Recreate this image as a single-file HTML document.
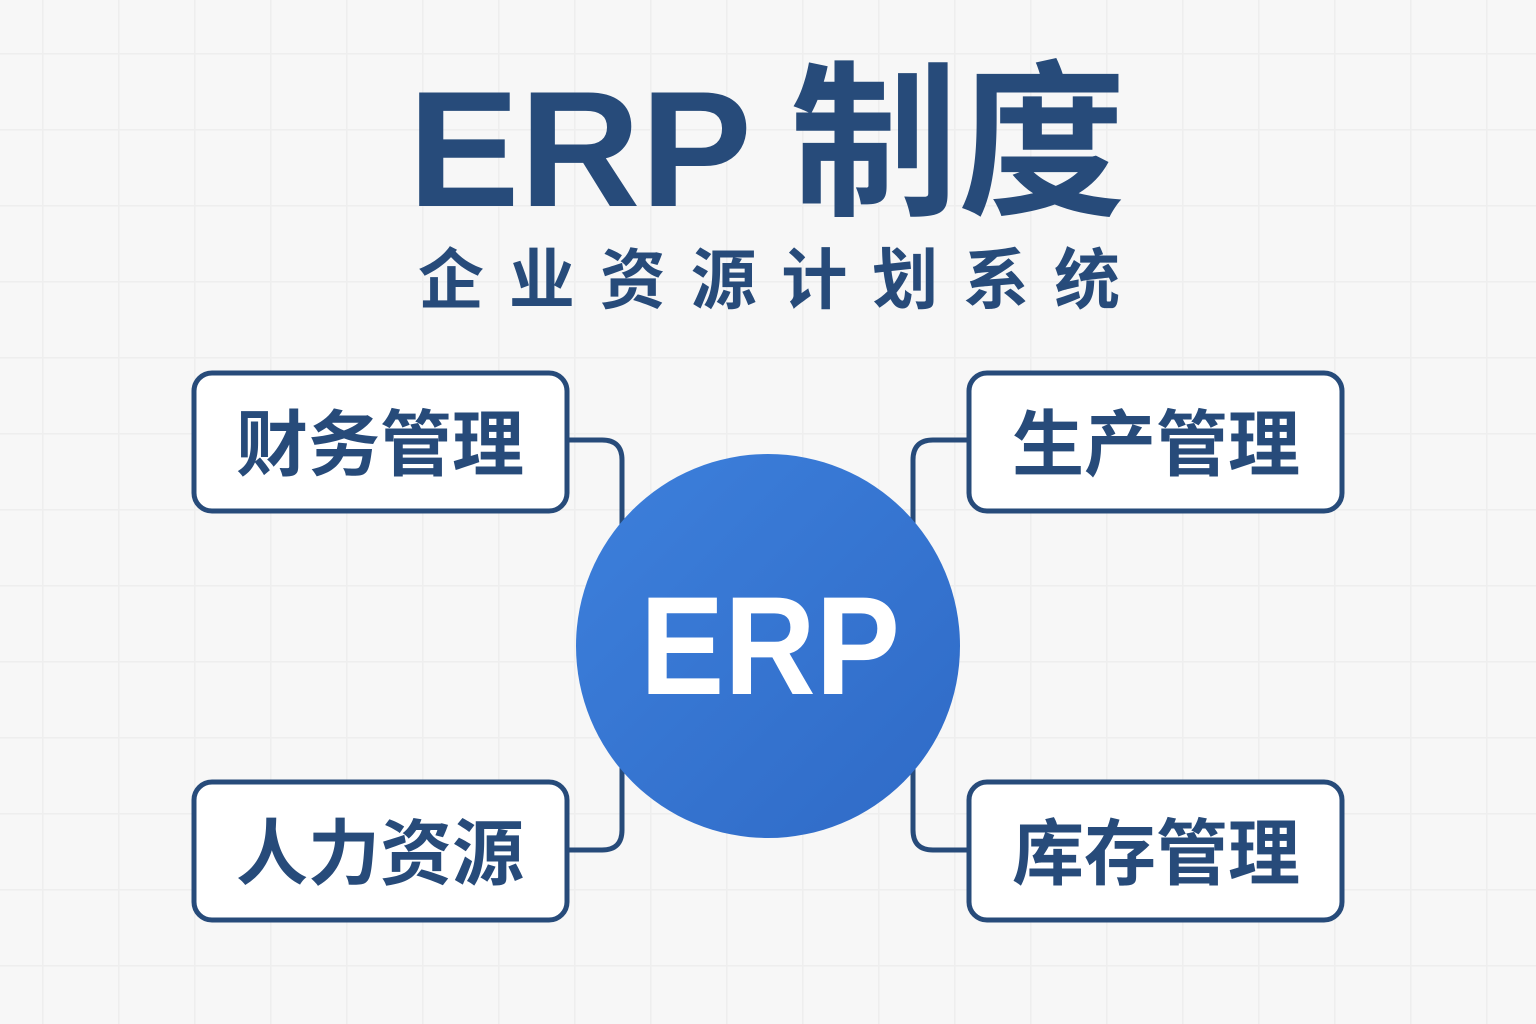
<!DOCTYPE html>
<html><head><meta charset="utf-8"><style>
html,body{margin:0;padding:0;width:1536px;height:1024px;overflow:hidden;background:#f7f7f7}
svg{display:block}
</style></head><body>
<svg width="1536" height="1024" viewBox="0 0 1536 1024" xmlns="http://www.w3.org/2000/svg">
<defs>
<pattern id="g" x="42" y="53" width="76" height="76" patternUnits="userSpaceOnUse">
<path d="M0 0V76M0 0H76" stroke="#eeeeee" stroke-width="3" fill="none"/>
</pattern>
<linearGradient id="c" x1="0" y1="0" x2="1" y2="1">
<stop offset="0" stop-color="#3d80dc"/><stop offset="1" stop-color="#2f6ac6"/>
</linearGradient>
</defs>
<rect width="1536" height="1024" fill="#f7f7f7"/>
<rect width="1536" height="1024" fill="url(#g)"/>
<g font-family="'Liberation Sans','Noto Sans CJK SC',sans-serif" font-weight="bold" fill="#274b7a">
<text x="580" y="206" font-size="165" text-anchor="middle" textLength="344" lengthAdjust="spacingAndGlyphs">ERP</text>
<text x="958" y="202" font-size="168" text-anchor="middle" textLength="336" lengthAdjust="spacingAndGlyphs">制度</text>
<text x="769" y="303" font-size="66" text-anchor="middle" textLength="702" lengthAdjust="spacing">企业资源计划系统</text>
</g>
<g fill="none" stroke="#274b7a" stroke-width="5">
<path d="M568 440H602Q622 440 622 460V525"/>
<path d="M968 440H933Q913 440 913 460V525"/>
<path d="M568 850H602Q622 850 622 830V765"/>
<path d="M968 850H933Q913 850 913 830V765"/>
</g>
<circle cx="768" cy="646" r="192" fill="url(#c)"/>
<g fill="#fff" stroke="#274b7a" stroke-width="5">
<rect x="194" y="373" width="373" height="138" rx="18"/>
<rect x="969" y="373" width="373" height="138" rx="18"/>
<rect x="194" y="782" width="373" height="138" rx="18"/>
<rect x="969" y="782" width="373" height="138" rx="18"/>
</g>
<g font-family="'Liberation Sans','Noto Sans CJK SC',sans-serif" font-weight="bold" fill="#274b7a" font-size="72" text-anchor="middle">
<text x="380" y="470">财务管理</text>
<text x="1156" y="470">生产管理</text>
<text x="380" y="879">人力资源</text>
<text x="1156" y="879">库存管理</text>
</g>
<text x="770" y="694" font-family="'Liberation Sans',sans-serif" font-weight="bold" font-size="140" fill="#fff" text-anchor="middle" textLength="260" lengthAdjust="spacingAndGlyphs">ERP</text>
</svg>
</body></html>
